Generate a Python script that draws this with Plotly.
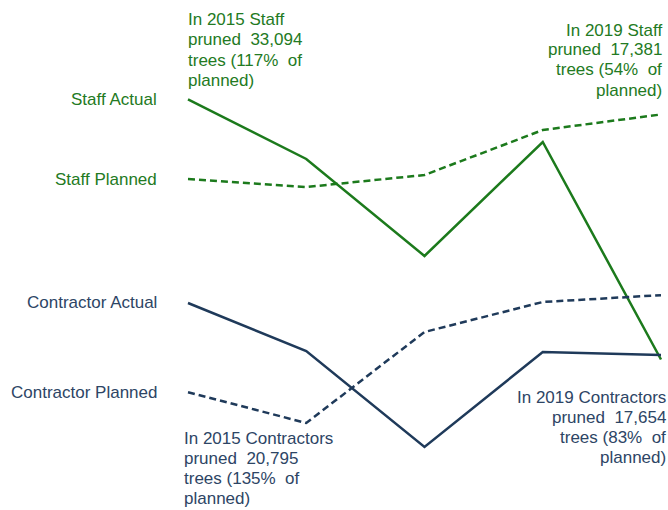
import plotly.graph_objects as go

years = [2015, 2016, 2017, 2018, 2019]
staff_actual = [33094, 29496, 23635, 30523, 17381]
staff_planned = [28285, 27804, 28529, 31248, 32187]
contractor_actual = [20795, 17895, 12094, 17834, 17654]
contractor_planned = [15404, 13544, 19043, 20855, 21270]

series_names = ["Staff Actual", "Staff Planned", "Contractor Actual", "Contractor Planned"]

note_staff_2015 = ["In 2015 Staff", "pruned  33,094", "trees (117%  of", "planned)"]
note_staff_2019 = ["In 2019 Staff", "pruned  17,381", "trees (54%  of", "planned)"]
note_contr_2015 = ["In 2015 Contractors", "pruned  20,795", "trees (135%  of", "planned)"]
note_contr_2019 = ["In 2019 Contractors", "pruned  17,654", "trees (83%  of", "planned)"]

GREEN = "#1c7a1c"
GREEN_TXT = "#237a23"
NAVY = "#1f3a5a"
NAVY_TXT = "#2d4565"
FONT = "Arial, Liberation Sans, sans-serif"
FS = 17

W, H = 668, 510
ML = 178
PLOT_W = W - ML


def px_x(page_x):
    return (page_x - ML) / PLOT_W


def px_y(page_y):
    return 1 - page_y / H


DASH = "7px,4px"
fig = go.Figure()
fig.add_trace(go.Scatter(x=years, y=staff_actual, mode="lines", name=series_names[0],
                         line=dict(color=GREEN, width=2.5)))
fig.add_trace(go.Scatter(x=years, y=staff_planned, mode="lines", name=series_names[1],
                         line=dict(color=GREEN, width=2.5, dash=DASH)))
fig.add_trace(go.Scatter(x=years, y=contractor_actual, mode="lines", name=series_names[2],
                         line=dict(color=NAVY, width=2.5)))
fig.add_trace(go.Scatter(x=years, y=contractor_planned, mode="lines", name=series_names[3],
                         line=dict(color=NAVY, width=2.5, dash=DASH)))

ann = []
for name, vals, col in [(series_names[0], staff_actual, GREEN_TXT),
                        (series_names[1], staff_planned, GREEN_TXT),
                        (series_names[2], contractor_actual, NAVY_TXT),
                        (series_names[3], contractor_planned, NAVY_TXT)]:
    ann.append(dict(x=px_x(159), y=vals[0], xref="paper", yref="y", text=name, showarrow=False,
                    xanchor="right", yanchor="middle", font=dict(color=col, size=FS, family=FONT)))


def add_note(lines, x_page, first_center, anchor, col):
    for i, t in enumerate(lines):
        ann.append(dict(x=px_x(x_page), y=px_y(first_center + 20 * i), xref="paper", yref="paper",
                        xanchor=anchor, yanchor="middle", text=t, showarrow=False,
                        font=dict(color=col, size=FS, family=FONT)))


add_note(note_staff_2015, 186, 20, "left", GREEN_TXT)
add_note(note_staff_2019, 664, 30, "right", GREEN_TXT)
add_note(note_contr_2015, 182, 438, "left", NAVY_TXT)
add_note(note_contr_2019, 668, 397, "right", NAVY_TXT)

fig.update_layout(
    width=W, height=H,
    margin=dict(l=ML, r=0, t=0, b=0),
    paper_bgcolor="white", plot_bgcolor="white",
    showlegend=False,
    hovermode=False,
    xaxis=dict(range=[2014.9154, 2019.0592], visible=False, fixedrange=True),
    yaxis=dict(range=[8287, 39103], visible=False, fixedrange=True),
    annotations=ann,
    font=dict(family=FONT),
)

fig.write_html("out.html", config={"displayModeBar": False},
               post_script="document.body.style.margin='0';")
